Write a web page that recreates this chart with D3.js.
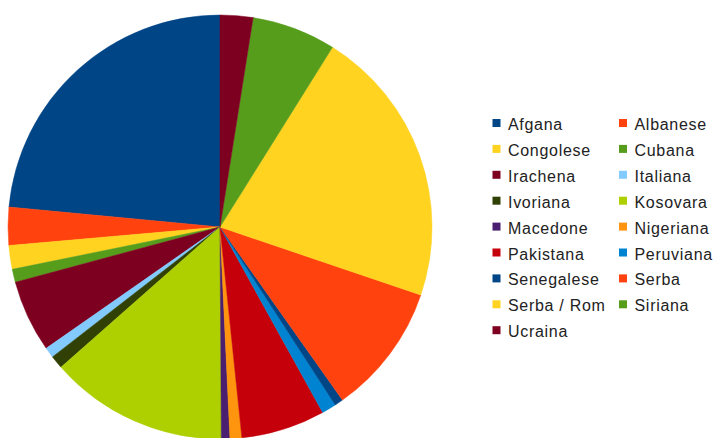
<!DOCTYPE html>
<html>
<head>
<meta charset="utf-8">
<script src="https://cdn.jsdelivr.net/npm/d3@7/dist/d3.min.js"></script>
<style>
  html, body { margin: 0; padding: 0; background: #fff; }
  svg { display: block; }
</style>
</head>
<body>
<svg id="chart" width="716" height="438"></svg>
<script>
const categories = ["Afgana", "Albanese", "Congolese", "Cubana", "Irachena", "Italiana",
  "Ivoriana", "Kosovara", "Macedone", "Nigeriana", "Pakistana", "Peruviana",
  "Senegalese", "Serba", "Serba / Rom", "Siriana", "Ucraina"];
const values = [23.5, 2.9, 1.8, 1.0, 5.5, 0.8, 1.0, 13.6, 0.65, 0.9, 6.4, 1.1, 0.65, 10.0, 21.3, 6.4, 2.5];
const palette = ["#004586", "#ff420e", "#ffd320", "#579d1c", "#7e0021", "#83caff",
  "#314004", "#aecf00", "#4b1f6f", "#ff950e", "#c5000b", "#0084d1"];

const svg = d3.select("#chart");
const cx = 220, cy = 227, r = 212;

const color = d3.scaleOrdinal().domain(categories).range(palette);

const pie = d3.pie().sort(null).value(d => d.v).startAngle(0).endAngle(-2 * Math.PI);
const arc = d3.arc().innerRadius(0).outerRadius(r);

const data = categories.map((c, i) => ({ c, v: values[i] }));

svg.append("g").attr("transform", `translate(${cx},${cy})`)
  .selectAll("path").data(pie(data)).join("path")
  .attr("d", arc)
  .attr("fill", d => color(d.data.c))
  .attr("stroke", d => color(d.data.c))
  .attr("stroke-width", 0.5);

// Legend: two columns, row-major
const legend = svg.append("g");
const colX = [492.5, 619];
const rowY0 = 130, rowStep = 25.9;
const items = legend.selectAll("g").data(categories).join("g")
  .attr("transform", (d, i) => `translate(${colX[i % 2]},${rowY0 + Math.floor(i / 2) * rowStep})`);
items.append("rect")
  .attr("x", 0).attr("y", -11).attr("width", 8).attr("height", 8)
  .attr("fill", d => color(d));
items.append("text")
  .attr("x", 15.5).attr("y", 0)
  .attr("font-family", "'Liberation Sans', Arial, sans-serif")
  .attr("font-size", 16)
  .attr("letter-spacing", 0.7)
  .attr("fill", "#222")
  .text(d => d);
</script>
</body>
</html>
